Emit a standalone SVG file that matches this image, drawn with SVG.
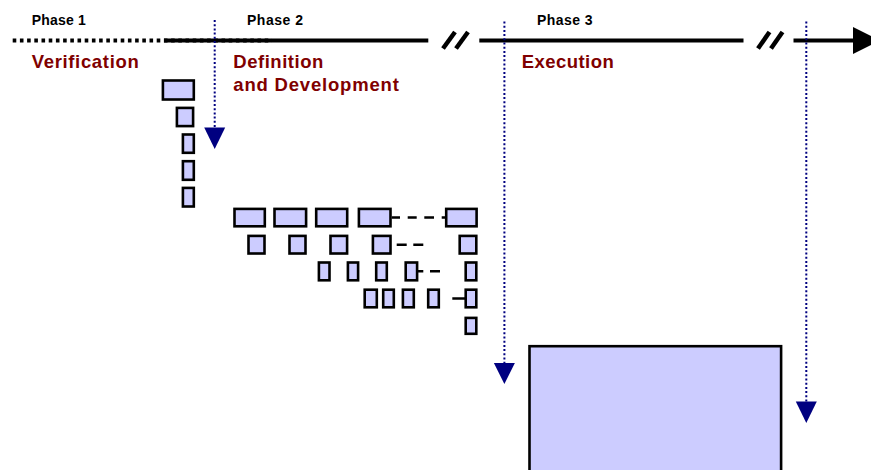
<svg xmlns="http://www.w3.org/2000/svg" width="871" height="470" viewBox="0 0 871 470">
  <style>
    .box { fill: #CCCCFF; stroke: #000000; stroke-width: 2.6; }
    .phase { font-family: "Liberation Sans", Arial, sans-serif; font-weight: bold; font-size: 14px; fill: #000000; }
    .stage { font-family: "Liberation Sans", Arial, sans-serif; font-weight: bold; font-size: 18.5px; fill: #800000; }
    .axis { stroke: #000000; stroke-width: 4; fill: none; }
    .brk { stroke: #000000; stroke-width: 4.5; fill: none; }
    .gap { stroke: #000000; stroke-width: 2.5; fill: none; }
    .cue { stroke: #000080; stroke-width: 2; stroke-dasharray: 2 2.2; fill: none; }
    .cuehead { fill: #000080; }
  </style>

  <rect width="871" height="470" fill="#FFFFFF"/>

  <!-- time axis -->
  <g id="timeline">
    <line class="axis" x1="12.7" y1="40.5" x2="272" y2="40.5" stroke-dasharray="3.6 3.6" stroke-width="4.4"/>
    <line class="axis" x1="164" y1="40.5" x2="428.3" y2="40.5"/>
    <line class="brk" x1="443" y1="48.5" x2="455" y2="32"/>
    <line class="brk" x1="456" y1="48.5" x2="468" y2="32"/>
    <line class="axis" x1="479.3" y1="40.5" x2="743.5" y2="40.5"/>
    <line class="brk" x1="758" y1="48.5" x2="769.5" y2="32"/>
    <line class="brk" x1="771" y1="48.5" x2="782.5" y2="32"/>
    <line class="axis" x1="793.5" y1="40.5" x2="854" y2="40.5"/>
    <polygon points="853,27 880,40.5 853,54" fill="#000000"/>
  </g>

  <!-- phase labels -->
  <g id="labels">
    <text class="phase" x="31.7" y="25" textLength="54" lengthAdjust="spacing">Phase 1</text>
    <text class="phase" x="247" y="24.5" textLength="56" lengthAdjust="spacing">Phase 2</text>
    <text class="phase" x="537" y="24.5" textLength="55.5" lengthAdjust="spacing">Phase 3</text>
    <text class="stage" x="31.7" y="68.3" textLength="107" lengthAdjust="spacing">Verification</text>
    <text class="stage" x="233.3" y="68.3" textLength="90" lengthAdjust="spacing">Definition</text>
    <text class="stage" x="233.3" y="90.5" textLength="165.5" lengthAdjust="spacing">and Development</text>
    <text class="stage" x="521.7" y="68.3" textLength="92" lengthAdjust="spacing">Execution</text>
  </g>

  <!-- verification stack -->
  <g id="verification-boxes">
    <rect class="box" x="162.9" y="80.5" width="30.9" height="19"/>
    <rect class="box" x="176.9" y="107.9" width="16.2" height="18.2"/>
    <rect class="box" x="182.9" y="134.5" width="10.9" height="18.3"/>
    <rect class="box" x="182.9" y="161.2" width="10.9" height="18.6"/>
    <rect class="box" x="182.9" y="187.9" width="10.9" height="18.6"/>
  </g>

  <!-- definition and development breakdown -->
  <g id="level-1">
    <rect class="box" x="234.5" y="208.9" width="30.3" height="17.4"/>
    <rect class="box" x="274.5" y="208.9" width="31.6" height="17.4"/>
    <rect class="box" x="316.2" y="208.9" width="31" height="17.4"/>
    <rect class="box" x="358.9" y="208.9" width="31.6" height="17.4"/>
    <rect class="box" x="446.2" y="208.9" width="30.4" height="17.4"/>
  </g>
  <g id="level-2">
    <rect class="box" x="248.5" y="235.9" width="16" height="17.6"/>
    <rect class="box" x="289.5" y="235.9" width="16" height="17.6"/>
    <rect class="box" x="330.5" y="235.9" width="16.6" height="17.6"/>
    <rect class="box" x="372.9" y="235.9" width="17.6" height="17.6"/>
    <rect class="box" x="459.7" y="235.9" width="16.6" height="17.6"/>
  </g>
  <g id="level-3">
    <rect class="box" x="318.9" y="262.5" width="10.6" height="17.8"/>
    <rect class="box" x="347.9" y="262.5" width="10.2" height="17.8"/>
    <rect class="box" x="376.2" y="262.5" width="10.6" height="17.8"/>
    <rect class="box" x="405.7" y="262.5" width="11.4" height="17.8"/>
    <rect class="box" x="465.7" y="262.5" width="10.6" height="17.8"/>
  </g>
  <g id="level-4">
    <rect class="box" x="364.7" y="289.7" width="12.1" height="17.6"/>
    <rect class="box" x="383.2" y="289.7" width="10.6" height="17.6"/>
    <rect class="box" x="402.9" y="289.7" width="10.9" height="17.6"/>
    <rect class="box" x="428.2" y="289.7" width="10.6" height="17.6"/>
    <rect class="box" x="465.7" y="289.7" width="10.6" height="17.6"/>
  </g>
  <g id="level-5">
    <rect class="box" x="465.7" y="317.9" width="10.6" height="15.9"/>
  </g>

  <!-- execution -->
  <g id="execution-box">
    <rect class="box" x="529.5" y="346.2" width="251.6" height="140"/>
  </g>

  <!-- connectors: elided rows and phase cues -->
  <g id="connectors">
    <path class="gap" d="M391.7 217.5H400 M407.7 217.5H416.7 M424.3 217.5H434 M441.7 217.5H446"/>
    <path class="gap" d="M396.7 244.8H406.7 M413.3 244.8H423.3"/>
    <path class="gap" d="M417 271.3H423.3 M430 271.3H440"/>
    <path class="gap" d="M452.3 298.5H465"/>

    <line class="cue" x1="214.7" y1="20" x2="214.7" y2="128"/>
    <polygon class="cuehead" points="204.2,127.5 225.2,127.5 214.7,149"/>
    <line class="cue" x1="504.4" y1="21.5" x2="504.4" y2="363.5"/>
    <polygon class="cuehead" points="493.9,363 514.9,363 504.4,384"/>
    <line class="cue" x1="806.3" y1="21.5" x2="806.3" y2="402"/>
    <polygon class="cuehead" points="795.8,401.5 816.8,401.5 806.3,423"/>
  </g>
</svg>
